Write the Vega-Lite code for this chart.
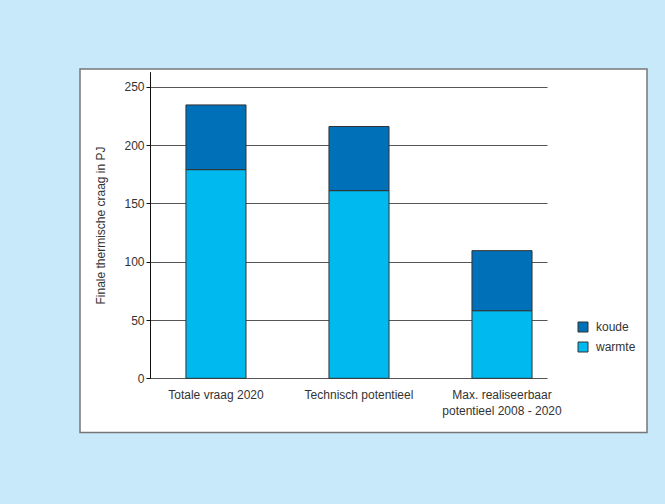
{
  "$schema": "https://vega.github.io/schema/vega-lite/v6.json",
  "autosize": {"type": "none"},
  "width": 567,
  "height": 363.5,
  "padding": {"left": 80, "top": 69, "right": 18, "bottom": 71.5},
  "background": "#c7e9f9",
  "data": {
    "values": [
      {"categorie": "Totale vraag 2020", "type": "warmte", "pj": 179},
      {"categorie": "Totale vraag 2020", "type": "koude", "pj": 55.5},
      {"categorie": "Technisch potentieel", "type": "warmte", "pj": 161},
      {"categorie": "Technisch potentieel", "type": "koude", "pj": 55},
      {"categorie": "Max. realiseerbaar potentieel 2008 - 2020", "type": "warmte", "pj": 58},
      {"categorie": "Max. realiseerbaar potentieel 2008 - 2020", "type": "koude", "pj": 51.5}
    ]
  },
  "mark": {"type": "bar", "stroke": "#333333", "strokeWidth": 1},
  "encoding": {
    "x": {
      "field": "categorie",
      "type": "nominal",
      "sort": null,
      "scale": {"range": [70, 467], "paddingInner": 0.58, "paddingOuter": 0.178, "align": 0.706},
      "axis": {
        "title": null,
        "orient": "bottom",
        "offset": -54.2,
        "domain": false,
        "ticks": false,
        "labelAngle": 0,
        "labelPadding": 11,
        "labelLineHeight": 16,
        "labelExpr": "datum.label == 'Max. realiseerbaar potentieel 2008 - 2020' ? ['Max. realiseerbaar', 'potentieel 2008 - 2020'] : datum.label"
      }
    },
    "y": {
      "field": "pj",
      "type": "quantitative",
      "stack": "zero",
      "scale": {"domain": [0, 263], "range": [309.3, 2.7], "nice": false},
      "axis": {
        "title": "Finale thermische craag in PJ",
        "orient": "left",
        "offset": -70,
        "values": [0, 50, 100, 150, 200, 250],
        "grid": true,
        "titlePadding": 16
      }
    },
    "color": {
      "field": "type",
      "type": "nominal",
      "scale": {"domain": ["koude", "warmte"], "range": ["#0070b9", "#00b9ef"]},
      "legend": {
        "title": null,
        "orient": "none",
        "legendX": 497,
        "legendY": 252,
        "symbolType": "square",
        "symbolSize": 100,
        "symbolStrokeColor": "#333333",
        "symbolStrokeWidth": 1,
        "symbolOpacity": 1,
        "labelOffset": 7,
        "rowPadding": 6,
        "padding": 0
      }
    },
    "order": {"field": "type", "sort": "descending"}
  },
  "config": {
    "font": "Liberation Sans",
    "view": {"fill": "#ffffff", "stroke": "#777777", "strokeWidth": 1.5},
    "axis": {
      "labelFont": "Liberation Sans",
      "labelFontSize": 12,
      "labelColor": "#333333",
      "titleFont": "Liberation Sans",
      "titleFontSize": 12,
      "titleFontWeight": "normal",
      "titleColor": "#333333",
      "gridColor": "#555555",
      "gridOpacity": 1,
      "gridWidth": 1,
      "domainColor": "#111111",
      "domainWidth": 1,
      "tickColor": "#111111",
      "tickSize": 4,
      "labelPadding": 2
    },
    "legend": {
      "labelFont": "Liberation Sans",
      "labelFontSize": 12,
      "labelColor": "#333333"
    }
  }
}
